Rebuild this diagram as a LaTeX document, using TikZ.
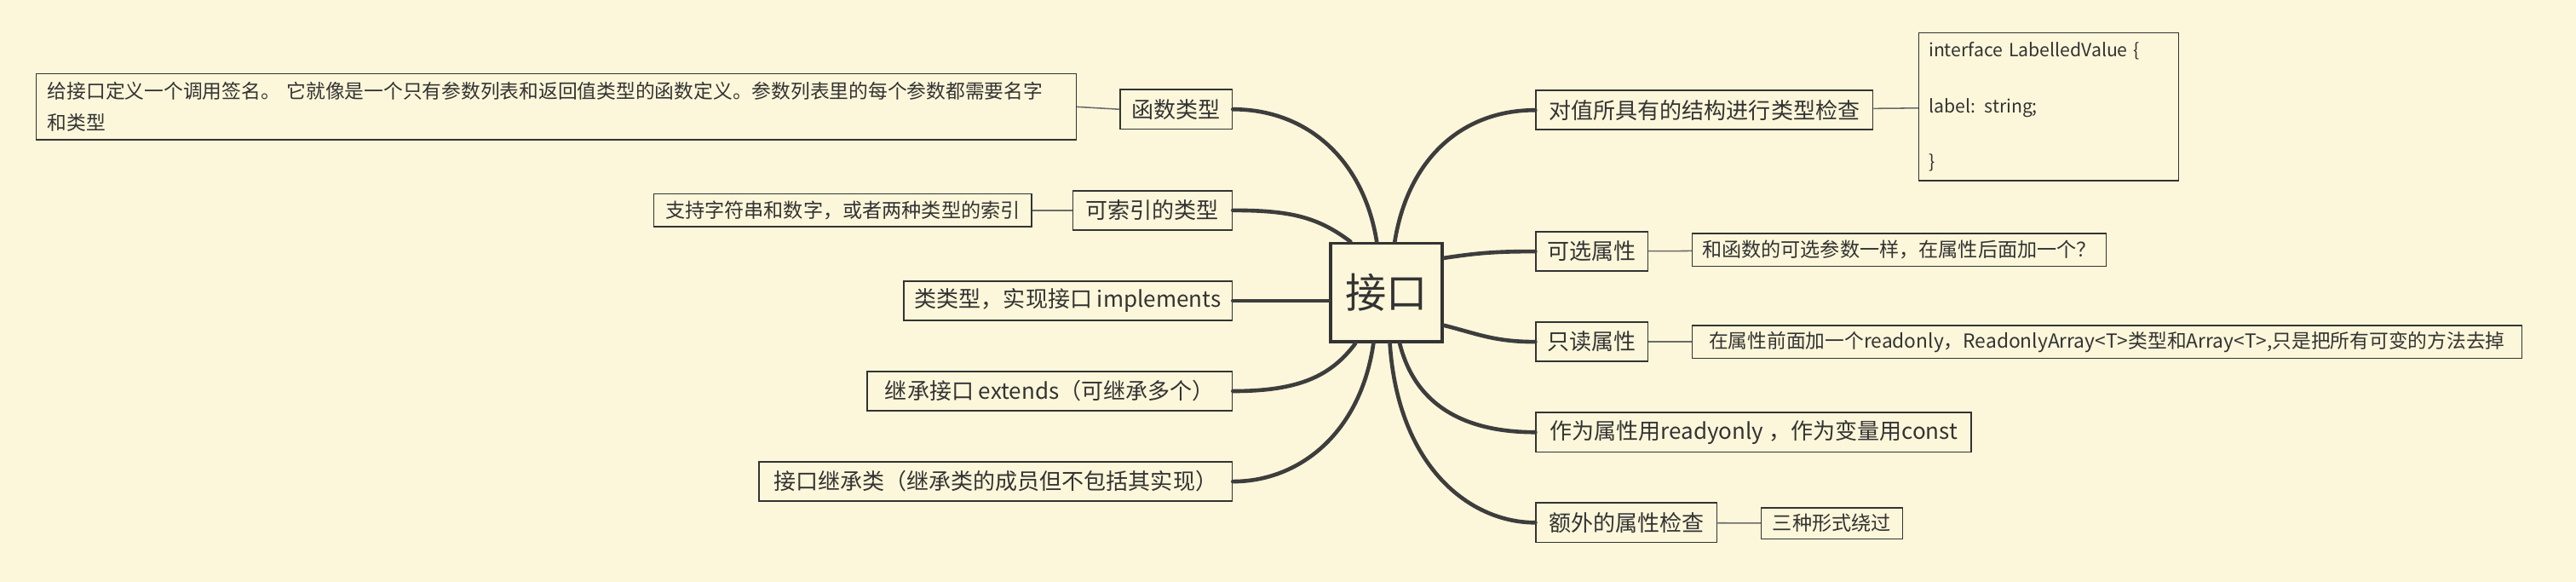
\documentclass[tikz,border=0pt]{standalone}
\usepackage{fontspec}
\newfontfamily\cjk{Noto Sans CJK SC}
\definecolor{bg}{HTML}{FCF7DA}
\definecolor{ink}{HTML}{333333}
\definecolor{edge}{HTML}{3D3D3D}
\definecolor{thin}{HTML}{6A6A6A}
\begin{document}
\begin{tikzpicture}[x=1pt,y=-1pt,
  box/.style={draw=ink, line width=0.9pt, text=ink, inner sep=0pt,
    font=\cjk\fontsize{13.5}{16}\selectfont, minimum height=24pt},
  sub/.style={box, line width=0.7pt, font=\cjk\fontsize{12}{15}\selectfont, minimum height=20pt},
  branch/.style={draw=edge, line width=2.4pt, line cap=round},
  link/.style={draw=thin, line width=0.8pt}]
\fill[bg] (0,0) rectangle (1568,354);
\useasboundingbox (0,0) rectangle (1568,354);

% centre
\node[box, line width=2pt, minimum width=68pt, minimum height=60pt,
  font=\cjk\fontsize{25}{30}\selectfont] (c) at (844,178) {接口};

% left branches
\node[box, minimum width=68pt] (fn) at (716,66.5) {函数类型};
\node[sub, minimum width=633pt, minimum height=40pt, text width=619pt, align=left,
  font=\cjk\fontsize{11.8}{19}\selectfont] (fnd) at (338.5,65)
  {给接口定义一个调用签名。 它就像是一个只有参数列表和返回值类型的函数定义。参数列表里的每个参数都需要名字\\和类型};
\node[box, minimum width=97pt] (idx) at (701.5,128) {可索引的类型};
\node[sub, minimum width=230pt] (idxd) at (513,128) {支持字符串和数字，或者两种类型的索引};
\node[box, minimum width=200pt] (cls) at (650,183) {类类型，实现接口 implements};
\node[box, minimum width=222pt] (ext) at (639,238) {继承接口 extends（可继承多个）};
\node[box, minimum width=288pt] (inh) at (606,293) {接口继承类（继承类的成员但不包括其实现）};

% right branches
\node[box, minimum width=205pt] (chk) at (1037.5,67) {对值所具有的结构进行类型检查};
\node[sub, minimum width=158pt, minimum height=90pt, text width=146pt, align=left,
  font=\cjk\fontsize{11}{17}\selectfont] (code) at (1247,65)
  {interface LabelledValue \{\\[17pt]label: string;\\[17pt]\}};
\node[box, minimum width=68pt] (opt) at (969,153) {可选属性};
\node[sub, minimum width=252pt] (optd) at (1156,152) {和函数的可选参数一样，在属性后面加一个？};
\node[box, minimum width=68pt] (ro) at (969,208) {只读属性};
\node[sub, minimum width=505pt, font=\cjk\fontsize{11.8}{14}\selectfont] (rod) at (1282.5,208)
  {在属性前面加一个readonly，ReadonlyArray<T>类型和Array<T>,只是把所有可变的方法去掉};
\node[box, minimum width=265pt] (ron) at (1067.5,263) {作为属性用readyonly ，作为变量用const};
\node[box, minimum width=110pt] (ex) at (990,318) {额外的属性检查};
\node[sub, minimum width=86pt, minimum height=19pt] (exd) at (1115,318.5) {三种形式绕过};

% thin links
\draw[link] (fnd.east) -- (fn.west);
\draw[link] (idxd) -- (idx);
\draw[link] (chk) -- (code);
\draw[link] (opt) -- (optd);
\draw[link] (ro) -- (rod);
\draw[link] (ex) -- (exd);

% thick branches
\draw[branch] ([xshift=-6pt]c.north) .. controls +(-8,-50) and +(45,0) .. (fn.east);
\draw[branch] ([xshift=-22pt]c.north) .. controls +(-20,-15) and +(35,0) .. (idx.east);
\draw[branch] (c.west |- cls.east) -- (cls.east);
\draw[branch] ([xshift=-19pt]c.south) .. controls +(-15,20) and +(40,0) .. (ext.east);
\draw[branch] ([xshift=-8pt]c.south) .. controls +(-8,55) and +(40,0) .. (inh.east);
\draw[branch] ([xshift=5pt]c.north) .. controls +(8,-50) and +(-45,0) .. (chk.west);
\draw[branch] ([yshift=21pt]c.east) .. controls +(20,-3) and +(-25,0) .. (opt.west);
\draw[branch] ([yshift=-20pt]c.east) .. controls +(20,5) and +(-25,0) .. (ro.west);
\draw[branch] ([xshift=8pt]c.south) .. controls +(10,40) and +(-40,0) .. (ron.west);
\draw[branch] ([xshift=2pt]c.south) .. controls +(5,75) and +(-40,0) .. (ex.west);
\end{tikzpicture}
\end{document}
